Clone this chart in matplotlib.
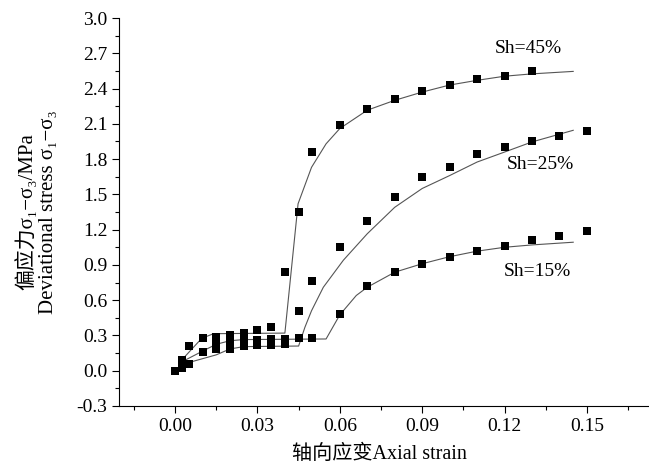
import numpy as np
import matplotlib.pyplot as plt
from matplotlib.ticker import MultipleLocator, FormatStrFormatter

plt.rcParams['font.family'] = ['Liberation Serif', 'DejaVu Serif', 'Noto Sans CJK SC']
plt.rcParams['axes.unicode_minus'] = True

# measured points (strain, deviatoric stress MPa)
x_low = [0, 0.0025, 0.005, 0.01, 0.015, 0.02, 0.025, 0.03, 0.035, 0.04, 0.045, 0.05]
x_high = [0.06, 0.07, 0.08, 0.09, 0.10, 0.11, 0.12, 0.13, 0.14, 0.15]

x45 = x_low + [0.06, 0.07, 0.08, 0.09, 0.10, 0.11, 0.12, 0.13]
y45 = [0, 0.09, 0.21, 0.275, 0.29, 0.30, 0.32, 0.345, 0.375, 0.84, 1.35, 1.86,
       2.09, 2.23, 2.31, 2.38, 2.43, 2.48, 2.51, 2.55]

x25 = x_low + x_high
y25 = [0, 0.02, 0.06, 0.16, 0.185, 0.185, 0.21, 0.215, 0.22, 0.23, 0.51, 0.76,
       1.05, 1.27, 1.48, 1.65, 1.73, 1.84, 1.90, 1.95, 2.00, 2.04]

x15 = x_low + x_high
y15 = [0, 0.02, 0.06, 0.16, 0.24, 0.25, 0.26, 0.26, 0.27, 0.27, 0.28, 0.28,
       0.48, 0.72, 0.84, 0.91, 0.97, 1.02, 1.06, 1.11, 1.15, 1.19]

# fitted curves
fx45 = [0.002, 0.0097, 0.014, 0.04, 0.0448, 0.0497, 0.055, 0.06, 0.07, 0.08,
        0.09, 0.10, 0.11, 0.12, 0.13, 0.145]
fy45 = [0.08, 0.275, 0.315, 0.32, 1.42, 1.73, 1.93, 2.06, 2.216, 2.30,
        2.37, 2.43, 2.47, 2.505, 2.525, 2.546]

fx25 = [0.002, 0.015, 0.02, 0.025, 0.045, 0.0473, 0.0497, 0.054, 0.0613, 0.07,
        0.08, 0.09, 0.10, 0.11, 0.12, 0.13, 0.145]
fy25 = [0.05, 0.135, 0.185, 0.205, 0.21, 0.37, 0.51, 0.71, 0.94, 1.165,
        1.39, 1.55, 1.66, 1.775, 1.86, 1.946, 2.045]

fx15 = [0.002, 0.0103, 0.015, 0.02, 0.025, 0.055, 0.06, 0.066, 0.07, 0.08,
        0.09, 0.10, 0.11, 0.12, 0.13, 0.145]
fy15 = [0.07, 0.17, 0.225, 0.255, 0.265, 0.27, 0.475, 0.64, 0.71, 0.838,
        0.91, 0.97, 1.017, 1.05, 1.07, 1.093]

fig = plt.figure(figsize=(6.49, 4.68), dpi=100)
ax = fig.add_axes([0.1834, 0.1325, 0.8166, 0.829])

for fx, fy in [(fx45, fy45), (fx25, fy25), (fx15, fy15)]:
    ax.plot(fx, fy, color='#555555', lw=0.8)
for x, y in [(x45, y45), (x25, y25), (x15, y15)]:
    ax.plot(x, y, 's', color='black', ms=5.5, mew=0)

ax.text(0.1285, 2.74, 'Sh=45%', fontsize=14, ha='center', va='center')
ax.text(0.133, 1.75, 'Sh=25%', fontsize=14, ha='center', va='center')
ax.text(0.132, 0.84, 'Sh=15%', fontsize=14, ha='center', va='center')

ax.set_xlim(-0.0204, 0.1726)
ax.set_ylim(-0.3, 3.0)
ax.xaxis.set_major_locator(MultipleLocator(0.03))
ax.xaxis.set_minor_locator(MultipleLocator(0.015))
ax.yaxis.set_major_locator(MultipleLocator(0.3))
ax.yaxis.set_minor_locator(MultipleLocator(0.15))
ax.xaxis.set_major_formatter(FormatStrFormatter('%.2f'))
ax.yaxis.set_major_formatter(FormatStrFormatter('%.1f'))
ax.tick_params(which='both', direction='out', labelsize=14, width=0.8)
ax.tick_params(which='major', length=5)
ax.tick_params(which='minor', length=3)
ax.spines['top'].set_visible(False)
ax.spines['right'].set_visible(False)

ax.set_xlabel('轴向应变Axial strain', fontsize=14.5)
ax.xaxis.set_label_coords(0.492, -0.1)
ax.set_ylabel('偏应力σ₁−σ₃/MPa\nDeviational stress σ₁−σ₃', fontsize=15,
              linespacing=1.15)
ax.yaxis.set_label_coords(-0.115, 0.5)

fig.savefig('out.png', dpi=100)
